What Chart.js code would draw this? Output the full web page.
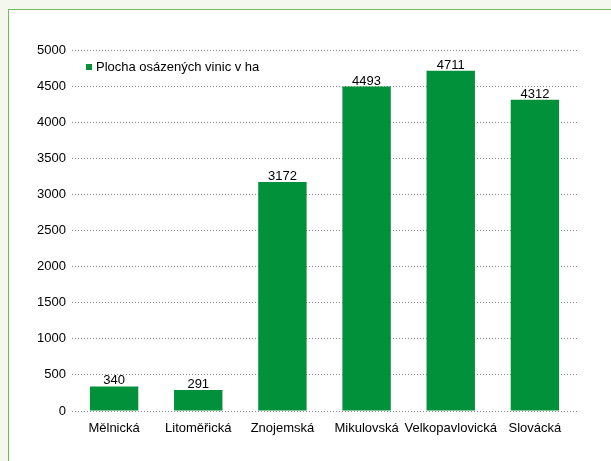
<!DOCTYPE html>
<html>
<head>
<meta charset="utf-8">
<script src="https://cdn.jsdelivr.net/npm/chart.js@4"></script>
<style>
  html, body { margin: 0; padding: 0; }
  body { width: 611px; height: 461px; background: #f3f7ee; position: relative; overflow: hidden; }
  #panel { position: absolute; left: 8px; top: 9px; width: 640px; height: 480px; background: #fff; border: 1px solid #6fbd5c; }
  #wrap { position: absolute; left: 0; top: 0; width: 611px; height: 461px; }
</style>
</head>
<body>
<div id="panel"></div>
<div id="wrap"><canvas id="myChart"></canvas></div>
<script>
const regions = ['Mělnická', 'Litoměřická', 'Znojemská', 'Mikulovská', 'Velkopavlovická', 'Slovácká'];
const area = [340, 291, 3172, 4493, 4711, 4312];
const seriesName = 'Plocha osázených vinic v ha';
const barColor = '#00913a';
const font = { family: 'Arial, "Liberation Sans", sans-serif', size: 13 };

// values above bars
const valueLabels = {
    id: 'valueLabels',
    afterDatasetsDraw(chart) {
        const ctx = chart.ctx;
        const meta = chart.getDatasetMeta(0);
        ctx.save();
        ctx.font = '13px Arial, "Liberation Sans", sans-serif';
        ctx.fillStyle = '#000';
        ctx.textAlign = 'center';
        ctx.textBaseline = 'alphabetic';
        meta.data.forEach((bar, i) => {
            ctx.fillText(chart.data.datasets[0].data[i], bar.x, bar.y - 2);
        });
        ctx.restore();
    }
};

// legend inside the plot, top left
const innerLegend = {
    id: 'innerLegend',
    afterDraw(chart) {
        const ctx = chart.ctx;
        const ds = chart.data.datasets[0];
        ctx.save();
        ctx.fillStyle = ds.backgroundColor;
        ctx.fillRect(86, 64, 6, 6);
        ctx.fillStyle = '#000';
        ctx.font = '13px Arial, "Liberation Sans", sans-serif';
        ctx.textBaseline = 'middle';
        ctx.textAlign = 'left';
        ctx.fillText(ds.label, 96, 67);
        ctx.restore();
    }
};

const ctx = document.getElementById('myChart');

new Chart(ctx, {
    type: 'bar',
    data: {
        labels: regions,
        datasets: [{
            label: seriesName,
            data: area,
            backgroundColor: barColor,
            categoryPercentage: 1,
            barPercentage: 0.575
        }]
    },
    options: {
        responsive: true,
        maintainAspectRatio: false,
        animation: false,
        layout: { padding: { top: 50, right: 34, left: 0, bottom: 0 } },
        plugins: {
            legend: { display: false },
            tooltip: { enabled: false }
        },
        scales: {
            x: {
                grid: { display: false },
                border: { display: false },
                ticks: { color: '#000', font: font, padding: 2, maxRotation: 0, autoSkip: false },
                afterFit: (s) => { s.height = 50; }
            },
            y: {
                min: 0,
                max: 5000,
                ticks: { stepSize: 500, color: '#000', font: font, padding: 6, callback: (v) => String(v) },
                grid: { color: '#8a8a8a', lineWidth: 1, drawTicks: false },
                border: { display: false, dash: [1, 2] },
                afterFit: (s) => { s.width = 72; }
            }
        }
    },
    plugins: [valueLabels, innerLegend]
});
</script>
</body>
</html>
